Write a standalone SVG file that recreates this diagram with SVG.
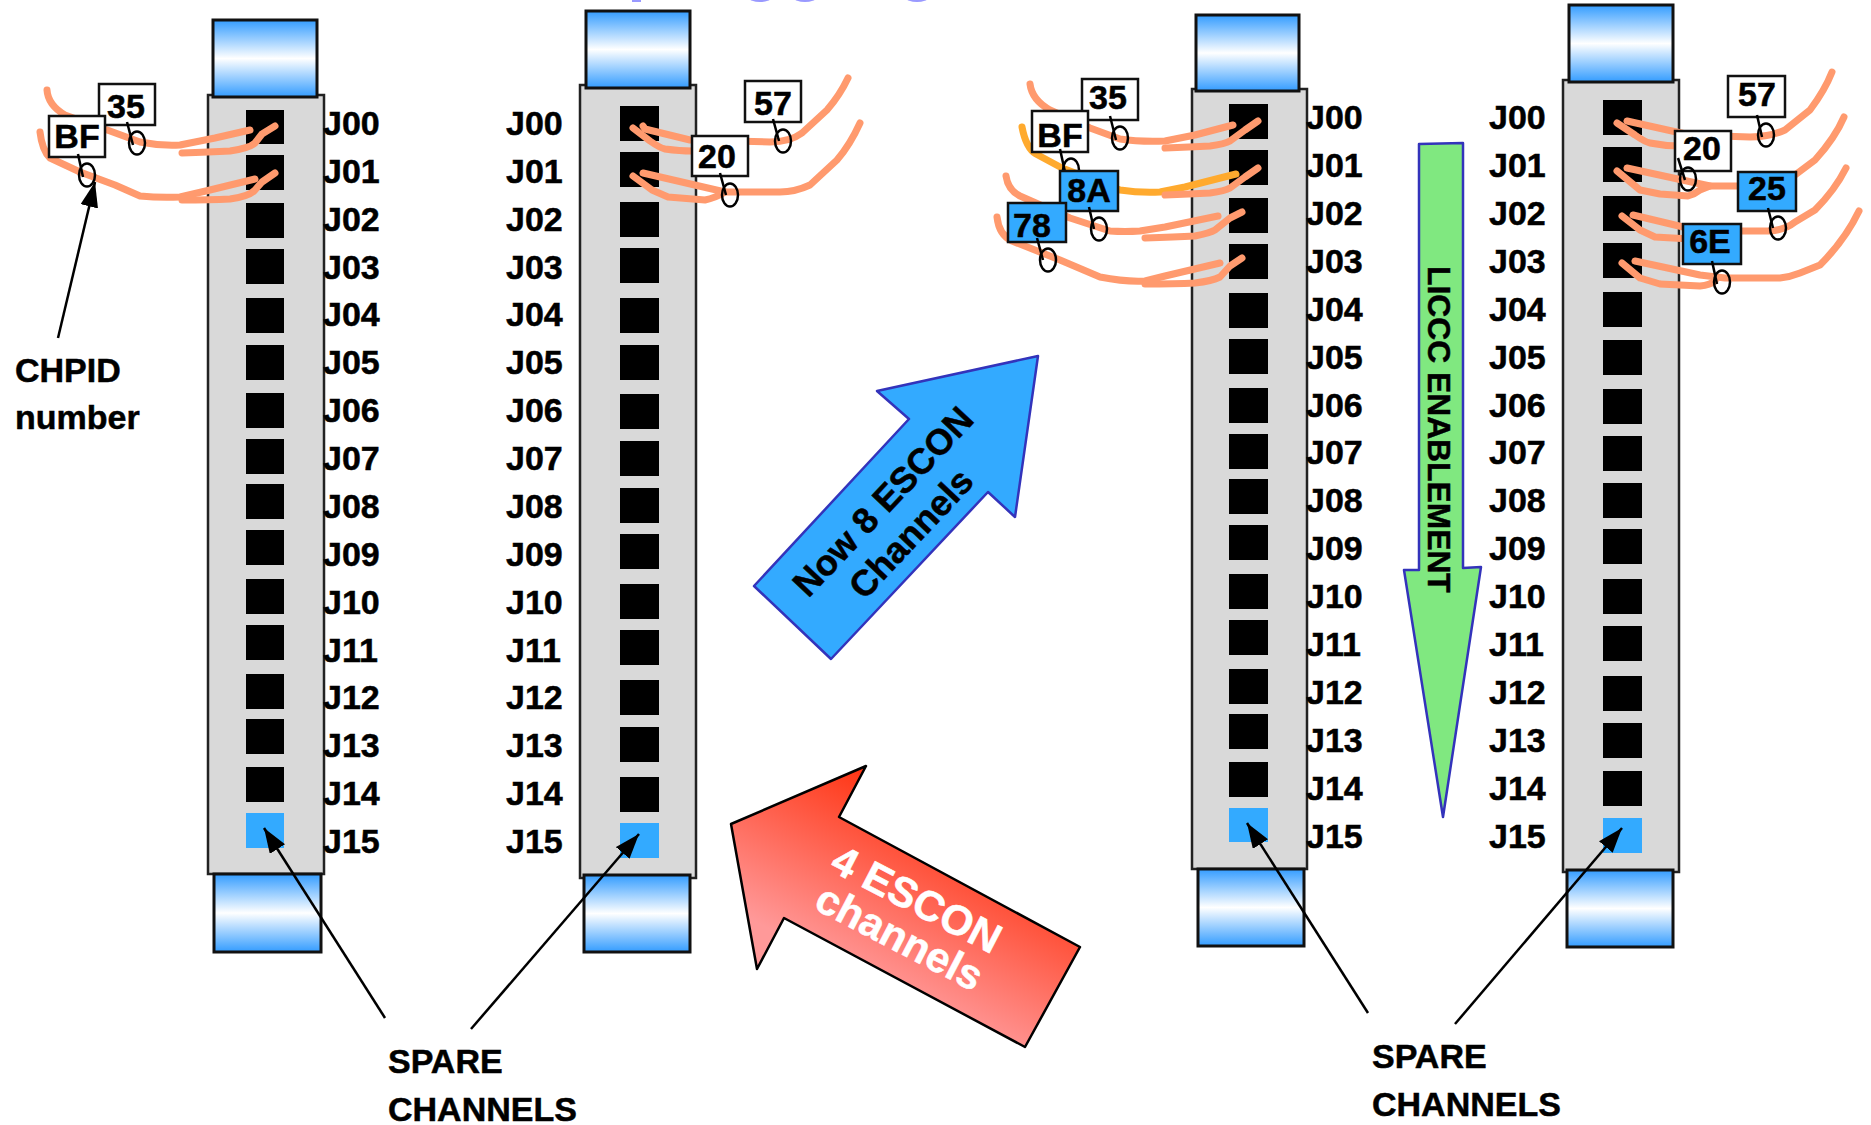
<svg xmlns="http://www.w3.org/2000/svg" width="1871" height="1125" viewBox="0 0 1871 1125">
<style>
text{font-family:"Liberation Sans",Arial,sans-serif;font-weight:bold;font-size:34px;fill:#000;stroke:#000;stroke-width:.5px}
.body{fill:#d9d9d9;stroke:#222;stroke-width:2.5}
.cap{fill:url(#capG);stroke:#111;stroke-width:3}
.port{fill:#000}
.spare{fill:#33aaff}
.wire{fill:none;stroke:#ff9a6e;stroke-width:7;stroke-linecap:round;stroke-linejoin:round}
.orange{stroke:#ffaa2e}
.box{fill:#fff;stroke:#111;stroke-width:2.5}
.bbox{fill:#33aaff;stroke:#111;stroke-width:2.5}
.mid{text-anchor:middle}
.ring{fill:none;stroke:#000;stroke-width:2.5}
.lead{fill:none;stroke:#000;stroke-width:2.5}
.ptr{fill:none;stroke:#000;stroke-width:2.5;marker-end:url(#tip)}
.big{fill:#33aaff;stroke:#3333bb;stroke-width:2.5;stroke-linejoin:round}
</style>
<defs>
<linearGradient id="capG" x1="0" y1="0" x2="0" y2="1"><stop offset="0" stop-color="#339cff"/><stop offset=".5" stop-color="#fff"/><stop offset="1" stop-color="#339cff"/></linearGradient>
<linearGradient id="redG" gradientUnits="userSpaceOnUse" x1="866" y1="766" x2="777" y2="933"><stop offset="0" stop-color="#ff3311"/><stop offset="1" stop-color="#ff9999"/></linearGradient>
<marker id="tip" markerUnits="userSpaceOnUse" markerWidth="28" markerHeight="20" refX="25" refY="9" orient="auto"><path d="M0,0L25,9L0,18z" fill="#000"/></marker>
</defs>
<g id="title-fragments" fill="#9999ff"><rect x="632" y="0" width="9" height="2"/><ellipse cx="760" cy="-2" rx="11" ry="4"/><ellipse cx="805" cy="-2" rx="11" ry="4"/><ellipse cx="917" cy="-2" rx="11" ry="4"/></g>

<g id="card-1">
<rect class="body" x="208" y="95" width="116" height="779"/>
<rect class="cap" x="213" y="20" width="104" height="77"/>
<rect class="cap" x="214" y="874" width="107" height="78"/>
<g class="port"><rect x="246" y="110" width="38" height="34"/><rect x="246" y="155" width="38" height="35"/><rect x="246" y="203" width="38" height="35"/><rect x="246" y="249" width="38" height="35"/><rect x="246" y="298" width="38" height="35"/><rect x="246" y="345" width="38" height="35"/><rect x="246" y="393" width="38" height="35"/><rect x="246" y="439" width="38" height="35"/><rect x="246" y="484" width="38" height="35"/><rect x="246" y="530" width="38" height="35"/><rect x="246" y="579" width="38" height="35"/><rect x="246" y="625" width="38" height="35"/><rect x="246" y="674" width="38" height="35"/><rect x="246" y="719" width="38" height="35"/><rect x="246" y="767" width="38" height="35"/></g>
<rect class="spare" x="246" y="813" width="38" height="35"/>
<g><text x="323" y="135">J00</text><text x="323" y="183">J01</text><text x="323" y="231">J02</text><text x="323" y="279">J03</text><text x="323" y="326">J04</text><text x="323" y="374">J05</text><text x="323" y="422">J06</text><text x="323" y="470">J07</text><text x="323" y="518">J08</text><text x="323" y="566">J09</text><text x="323" y="614">J10</text><text x="323" y="662">J11</text><text x="323" y="709">J12</text><text x="323" y="757">J13</text><text x="323" y="805">J14</text><text x="323" y="853">J15</text></g>
</g>

<g id="card-2">
<rect class="body" x="580" y="85" width="116" height="793"/>
<rect class="cap" x="586" y="11" width="104" height="77"/>
<rect class="cap" x="584" y="875" width="106" height="77"/>
<g class="port"><rect x="620" y="106" width="39" height="35"/><rect x="620" y="152" width="39" height="35"/><rect x="620" y="202" width="39" height="35"/><rect x="620" y="248" width="39" height="35"/><rect x="620" y="298" width="39" height="35"/><rect x="620" y="345" width="39" height="35"/><rect x="620" y="394" width="39" height="35"/><rect x="620" y="441" width="39" height="35"/><rect x="620" y="488" width="39" height="35"/><rect x="620" y="534" width="39" height="35"/><rect x="620" y="584" width="39" height="35"/><rect x="620" y="630" width="39" height="35"/><rect x="620" y="680" width="39" height="35"/><rect x="620" y="727" width="39" height="35"/><rect x="620" y="777" width="39" height="35"/></g>
<rect class="spare" x="620" y="823" width="39" height="35"/>
<g><text x="506" y="135">J00</text><text x="506" y="183">J01</text><text x="506" y="231">J02</text><text x="506" y="279">J03</text><text x="506" y="326">J04</text><text x="506" y="374">J05</text><text x="506" y="422">J06</text><text x="506" y="470">J07</text><text x="506" y="518">J08</text><text x="506" y="566">J09</text><text x="506" y="614">J10</text><text x="506" y="662">J11</text><text x="506" y="709">J12</text><text x="506" y="757">J13</text><text x="506" y="805">J14</text><text x="506" y="853">J15</text></g>
</g>

<g id="card-3">
<rect class="body" x="1192" y="89" width="115" height="780"/>
<rect class="cap" x="1196" y="15" width="103" height="76"/>
<rect class="cap" x="1198" y="869" width="106" height="77"/>
<g class="port"><rect x="1229" y="104" width="39" height="35"/><rect x="1229" y="150" width="39" height="35"/><rect x="1229" y="198" width="39" height="35"/><rect x="1229" y="244" width="39" height="35"/><rect x="1229" y="293" width="39" height="35"/><rect x="1229" y="339" width="39" height="35"/><rect x="1229" y="388" width="39" height="35"/><rect x="1229" y="434" width="39" height="35"/><rect x="1229" y="479" width="39" height="35"/><rect x="1229" y="525" width="39" height="35"/><rect x="1229" y="574" width="39" height="35"/><rect x="1229" y="620" width="39" height="35"/><rect x="1229" y="669" width="39" height="35"/><rect x="1229" y="714" width="39" height="35"/><rect x="1229" y="762" width="39" height="35"/></g>
<rect class="spare" x="1229" y="808" width="39" height="34"/>
<g><text x="1306" y="129">J00</text><text x="1306" y="177">J01</text><text x="1306" y="225">J02</text><text x="1306" y="273">J03</text><text x="1306" y="321">J04</text><text x="1306" y="369">J05</text><text x="1306" y="417">J06</text><text x="1306" y="464">J07</text><text x="1306" y="512">J08</text><text x="1306" y="560">J09</text><text x="1306" y="608">J10</text><text x="1306" y="656">J11</text><text x="1306" y="704">J12</text><text x="1306" y="752">J13</text><text x="1306" y="800">J14</text><text x="1306" y="848">J15</text></g>
</g>

<g id="card-4">
<rect class="body" x="1563" y="80" width="116" height="792"/>
<rect class="cap" x="1569" y="5" width="104" height="77"/>
<rect class="cap" x="1567" y="870" width="106" height="77"/>
<g class="port"><rect x="1603" y="100" width="39" height="35"/><rect x="1603" y="147" width="39" height="35"/><rect x="1603" y="196" width="39" height="35"/><rect x="1603" y="243" width="39" height="35"/><rect x="1603" y="292" width="39" height="35"/><rect x="1603" y="340" width="39" height="35"/><rect x="1603" y="389" width="39" height="35"/><rect x="1603" y="436" width="39" height="35"/><rect x="1603" y="483" width="39" height="35"/><rect x="1603" y="529" width="39" height="35"/><rect x="1603" y="579" width="39" height="35"/><rect x="1603" y="626" width="39" height="35"/><rect x="1603" y="676" width="39" height="35"/><rect x="1603" y="723" width="39" height="35"/><rect x="1603" y="771" width="39" height="35"/></g>
<rect class="spare" x="1603" y="818" width="39" height="35"/>
<g><text x="1489" y="129">J00</text><text x="1489" y="177">J01</text><text x="1489" y="225">J02</text><text x="1489" y="273">J03</text><text x="1489" y="321">J04</text><text x="1489" y="369">J05</text><text x="1489" y="417">J06</text><text x="1489" y="464">J07</text><text x="1489" y="512">J08</text><text x="1489" y="560">J09</text><text x="1489" y="608">J10</text><text x="1489" y="656">J11</text><text x="1489" y="704">J12</text><text x="1489" y="752">J13</text><text x="1489" y="800">J14</text><text x="1489" y="848">J15</text></g>
</g>

<g id="connectors">
<g id="wires">
<path class="wire" d="M47,90Q48,105 65,115L110,131L140,142Q160,146 180,145L215,138L250,130"/>
<path class="wire" d="M182,153Q210,152 230,151Q250,148 255,143L262,134L275,126"/>
<path class="wire" d="M40,132Q42,150 50,158L80,172L115,185L140,196Q160,198 180,197L210,190L255,179"/>
<path class="wire" d="M182,200Q210,200 230,199Q250,196 255,190L262,182L275,173"/>
<path class="wire" d="M848,78Q840,95 827,110L802,133Q790,142 770,142L690,140L645,129L643,126"/>
<path class="wire" d="M633,128L650,141Q660,148 665,149Q680,151 692,151"/>
<path class="wire" d="M860,123Q850,145 837,160L810,185Q795,192 780,192L725,192L643,173"/>
<path class="wire" d="M633,176L652,190L668,197L705,200Q715,198 725,192"/>
<path class="wire" d="M1030,84Q1032,100 1050,110L1090,128L1120,139Q1140,142 1165,141L1195,135L1233,125"/>
<path class="wire" d="M1165,148Q1190,147 1210,146Q1225,144 1230,141L1245,130L1258,121"/>
<path class="wire orange" d="M1022,127Q1026,148 1036,154L1062,168L1120,190Q1140,193 1160,192L1185,187L1236,174"/>
<path class="wire" d="M1165,195Q1190,194 1210,193Q1225,191 1230,188L1245,177L1258,168"/>
<path class="wire" d="M1006,176Q1008,190 1020,196L1070,218L1110,231Q1125,232 1140,231L1165,227L1218,216"/>
<path class="wire" d="M1145,238Q1175,237 1195,236Q1210,233 1215,230L1230,218L1242,212"/>
<path class="wire" d="M997,217Q999,235 1012,241L1060,260L1100,277Q1125,282 1145,281L1165,276L1220,263"/>
<path class="wire" d="M1145,284Q1175,284 1195,283Q1212,281 1220,277L1230,266L1242,258"/>
<path class="wire" d="M1832,72Q1825,90 1810,110L1785,130Q1770,137 1750,137L1690,135L1627,121"/>
<path class="wire" d="M1617,123L1635,135Q1645,142 1650,143Q1665,146 1680,146"/>
<path class="wire" d="M1844,117Q1835,138 1815,160L1795,175Q1770,186 1745,186L1710,186L1627,168"/>
<path class="wire" d="M1617,171L1640,190L1660,194L1688,196Q1695,194 1700,190L1710,186"/>
<path class="wire" d="M1846,168Q1835,190 1815,210L1795,222Q1785,230 1770,231L1700,231L1633,215"/>
<path class="wire" d="M1622,216L1640,230L1655,237L1690,239"/>
<path class="wire" d="M1859,211Q1845,240 1820,265L1800,273Q1790,277 1780,278L1725,278L1700,275L1635,261"/>
<path class="wire" d="M1622,263L1640,278L1660,284L1700,286Q1710,285 1715,281"/>
</g>
<g id="pointers">
<line class="ptr" x1="58" y1="338" x2="95" y2="182"/>
<line class="ptr" x1="385" y1="1018" x2="264" y2="828"/>
<line class="ptr" x1="471" y1="1029" x2="639" y2="834"/>
<line class="ptr" x1="1368" y1="1013" x2="1247" y2="823"/>
<line class="ptr" x1="1455" y1="1024" x2="1622" y2="828"/>
</g>
</g>

<g id="chpid-a-35"><ellipse class="ring" cx="137" cy="143" rx="8" ry="11.500"/><rect class="box" x="99" y="84" width="56" height="41"/><path class="lead" d="M127,122L133,145"/><text class="mid" x="126" y="118">35</text></g>
<g id="chpid-a-bf"><ellipse class="ring" cx="87" cy="175" rx="8" ry="11.500"/><rect class="box" x="49" y="116" width="56" height="41"/><path class="lead" d="M78,154L83,177"/><text class="mid" x="77" y="148">BF</text></g>
<g id="chpid-b-57"><ellipse class="ring" cx="783" cy="141" rx="8" ry="11.500"/><rect class="box" x="745" y="81" width="56" height="41"/><path class="lead" d="M773,119L779,141"/><text class="mid" x="773" y="115">57</text></g>
<g id="chpid-b-20"><ellipse class="ring" cx="730" cy="195" rx="8" ry="11.500"/><rect class="box" x="692" y="136" width="56" height="40"/><path class="lead" d="M720,173L726,195"/><text class="mid" x="717" y="168">20</text></g>
<g id="chpid-c-35"><ellipse class="ring" cx="1120" cy="138" rx="8" ry="11.500"/><rect class="box" x="1082" y="79" width="56" height="41"/><path class="lead" d="M1110,116L1116,140"/><text class="mid" x="1108" y="109">35</text></g>
<g id="chpid-c-bf"><ellipse class="ring" cx="1071" cy="170" rx="8" ry="11.500"/><rect class="box" x="1032" y="111" width="56" height="41"/><path class="lead" d="M1060,149L1065,172"/><text class="mid" x="1060" y="147">BF</text></g>
<g id="chpid-c-8a"><ellipse class="ring" cx="1099" cy="229" rx="8" ry="11.500"/><rect class="bbox" x="1060" y="171" width="58" height="40"/><path class="lead" d="M1089,207L1094,229"/><text class="mid" x="1089" y="202">8A</text></g>
<g id="chpid-c-78"><ellipse class="ring" cx="1048" cy="260" rx="8" ry="11.500"/><rect class="bbox" x="1008" y="203" width="58" height="39"/><path class="lead" d="M1037,238L1043,260"/><text class="mid" x="1032" y="237">78</text></g>
<g id="chpid-d-57"><ellipse class="ring" cx="1766" cy="135" rx="8" ry="11.500"/><rect class="box" x="1728" y="76" width="57" height="41"/><path class="lead" d="M1757,115L1762,137"/><text class="mid" x="1757" y="106">57</text></g>
<g id="chpid-d-20"><rect class="box" x="1675" y="131" width="56" height="40"/><text class="mid" x="1702" y="160">20</text><ellipse class="ring" cx="1688" cy="179" rx="8" ry="11.500"/><path class="lead" d="M1678,158L1685,180"/></g>
<g id="chpid-d-25"><ellipse class="ring" cx="1778" cy="228" rx="8" ry="11.500"/><rect class="bbox" x="1738" y="172" width="58" height="39"/><path class="lead" d="M1768,208L1773,228"/><text class="mid" x="1767" y="200">25</text></g>
<g id="chpid-d-6e"><ellipse class="ring" cx="1722" cy="282" rx="8" ry="11.500"/><rect class="bbox" x="1683" y="224" width="58" height="40"/><path class="lead" d="M1712,261L1717,284"/><text class="mid" x="1710" y="253">6E</text></g>

<g id="note-chpid"><text x="15" y="382">CHPID</text><text x="15" y="429">number</text></g>
<g id="note-spare-left"><text x="388" y="1073">SPARE</text><text x="388" y="1121">CHANNELS</text></g>
<g id="note-spare-right"><text x="1372" y="1068">SPARE</text><text x="1372" y="1116">CHANNELS</text></g>

<g id="arrow-now8">
<path class="big" d="M1038,356L877,391L909,419L754,586L831,659L988,492L1015,517z"/>
<text class="mid" transform="translate(892,510) rotate(-46.700)" style="font-size:36px">Now 8 ESCON</text>
<text class="mid" transform="translate(920,542) rotate(-46.700)" style="font-size:36px">Channels</text>
</g>
<g id="arrow-4escon">
<path d="M866,766L731,824L757,969L784,918L1025,1047L1080,947L839,817z" fill="url(#redG)" stroke="#000" stroke-width="2.500" stroke-linejoin="round"/>
<text class="mid" transform="translate(910,912) rotate(27.500)" style="font-size:42px;fill:#fff;stroke:#fff">4 ESCON</text>
<text class="mid" transform="translate(893,950) rotate(27.500)" style="font-size:42px;fill:#fff;stroke:#fff">channels</text>
</g>
<g id="arrow-licc">
<path d="M1419,144L1463,143L1463,568L1481,567L1443,817L1404,570L1419,570z" fill="#80e880" stroke="#3333bb" stroke-width="2.500" stroke-linejoin="round"/>
<text transform="translate(1428,266) rotate(90)" style="font-size:31.800px">LICCC ENABLEMENT</text>
</g>
</svg>
